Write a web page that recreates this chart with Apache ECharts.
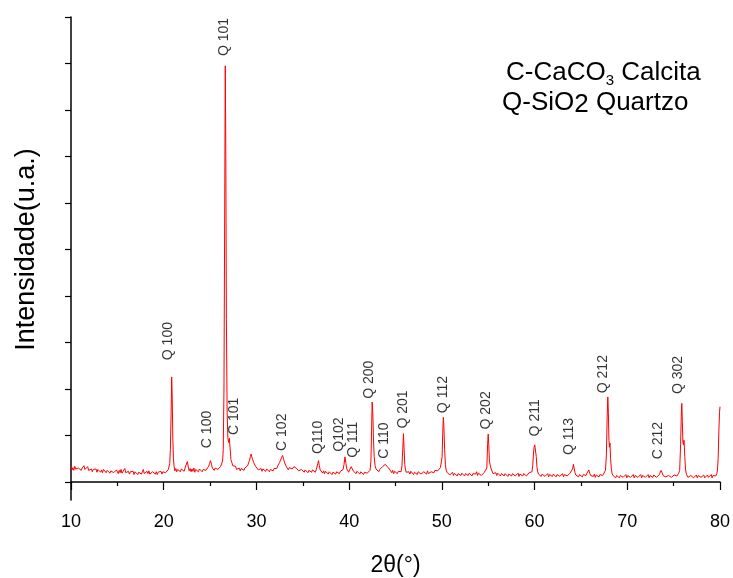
<!DOCTYPE html>
<html>
<head>
<meta charset="utf-8">
<script src="https://cdn.jsdelivr.net/npm/echarts@6/dist/echarts.min.js"></script>
<style>
html,body{margin:0;padding:0;background:#fff;}
#chart{width:733px;height:578px;}
</style>
</head>
<body>
<div id="chart"></div>
<script>
// X-ray diffraction pattern: [2theta (deg), intensity (a.u.)]
var xrdPoints = [
[10.0,33],[10.1,26],[10.2,31],[10.3,25],[10.4,34],[10.5,28],[10.6,32],[10.7,24],[10.8,30],[10.9,27],
[11.0,33],[11.1,25],[11.2,30],[11.3,28],[11.4,35],[11.5,27],[11.6,31],[11.7,26],[11.8,33],[11.9,25],
[12.0,29],[12.1,23],[12.2,28],[12.3,22],[12.4,27],[12.5,30],[12.6,23],[12.7,28],[12.8,21],[12.9,27],
[13.0,24],[13.1,29],[13.2,21],[13.3,26],[13.4,20],[13.5,27],[13.6,23],[13.7,28],[13.8,20],[13.9,25],
[14.0,22],[14.1,27],[14.2,19],[14.3,24],[14.4,21],[14.5,28],[14.6,20],[14.7,24],[14.8,19],[14.9,26],
[15.0,22],[15.1,18],[15.2,25],[15.3,20],[15.4,27],[15.5,19],[15.6,23],[15.7,17],[15.8,29],[15.9,20],
[16.0,24],[16.1,18],[16.2,23],[16.3,17],[16.4,22],[16.5,25],[16.6,18],[16.7,23],[16.8,16],[16.9,22],
[17.0,19],[17.1,24],[17.2,16],[17.3,21],[17.4,18],[17.5,25],[17.6,17],[17.7,22],[17.8,27],[17.9,18],
[18.0,21],[18.1,16],[18.2,23],[18.3,18],[18.4,24],[18.5,17],[18.6,20],[18.7,15],[18.8,22],[18.9,19],
[19.0,25],[19.1,17],[19.2,22],[19.3,16],[19.4,21],[19.5,24],[19.6,18],[19.7,23],[19.8,17],[19.9,22],
[20.0,19],[20.1,25],[20.2,20],[20.3,24],[20.4,21],[20.5,27],
[20.6,30],[20.65,40],[20.72,70],[20.8,150],[20.86,226],[20.92,180],[20.98,95],[21.05,50],[21.12,33],
[21.2,24],[21.3,29],[21.4,22],[21.5,27],[21.6,23],[21.7,30],[21.8,22],[21.9,28],[22.0,24],[22.1,29],
[22.2,23],[22.3,30],[22.4,27],[22.45,34],[22.55,44],[22.65,32],[22.75,24],[22.85,29],[22.95,22],[23.05,28],
[23.15,23],[23.25,30],[23.35,21],[23.45,27],[23.55,24],[23.65,29],[23.75,22],[23.85,28],[23.95,25],[24.05,30],
[24.15,22],[24.25,27],[24.35,24],[24.45,31],[24.55,25],[24.65,29],[24.75,27],[24.85,34],[24.95,40],[25.05,46],
[25.15,38],[25.25,30],[25.35,33],[25.45,25],[25.55,30],[25.65,26],[25.75,32],[25.85,27],[25.95,31],[26.05,29],
[26.15,34],[26.25,36],[26.35,45],[26.42,70],[26.5,200],[26.58,600],[26.64,895],[26.7,700],[26.76,350],[26.84,150],
[26.92,95],[27.0,85],[27.08,94],[27.15,75],[27.25,48],[27.35,42],[27.45,35],[27.55,39],[27.65,31],[27.75,34],
[27.85,27],[27.95,31],[28.05,25],[28.15,30],[28.25,24],[28.35,29],[28.45,26],[28.55,31],[28.65,25],[28.75,30],
[28.85,28],[28.95,33],[29.05,35],[29.15,41],[29.25,46],[29.35,55],[29.42,60],[29.5,54],[29.6,48],[29.7,42],
[29.8,38],[29.9,34],[30.0,30],[30.1,32],[30.2,26],[30.3,30],[30.4,24],[30.5,29],[30.6,23],[30.7,28],
[30.8,25],[30.9,31],[31.0,23],[31.1,28],[31.2,24],[31.3,30],[31.4,22],[31.5,27],[31.6,25],[31.7,31],
[31.8,24],[31.9,29],[32.0,27],[32.1,32],[32.2,29],[32.3,35],[32.4,37],[32.5,42],[32.6,47],[32.7,52],
[32.82,57],[32.95,48],[33.05,41],[33.15,37],[33.25,32],[33.35,30],[33.45,26],[33.55,31],[33.65,27],[33.75,32],
[33.85,28],[33.95,31],[34.05,33],[34.15,37],[34.25,34],[34.35,29],[34.45,31],[34.55,24],[34.65,28],[34.75,22],
[34.85,27],[34.95,23],[35.05,29],[35.15,21],[35.25,26],[35.35,22],[35.45,28],[35.55,20],[35.65,25],[35.75,23],
[35.85,29],[35.95,21],[36.05,26],[36.15,22],[36.25,27],[36.35,21],[36.45,26],[36.55,30],[36.62,40],[36.7,46],
[36.78,35],[36.88,26],[36.98,22],[37.05,25],[37.15,19],[37.25,24],[37.35,18],[37.45,23],[37.55,20],[37.65,25],
[37.75,17],[37.85,22],[37.95,19],[38.05,24],[38.15,16],[38.25,21],[38.35,18],[38.45,25],[38.55,17],[38.65,22],
[38.75,19],[38.85,24],[38.95,18],[39.05,23],[39.15,21],[39.25,26],[39.35,27],[39.45,38],[39.55,54],[39.65,40],
[39.75,28],[39.85,24],[39.95,21],[40.05,26],[40.15,28],[40.22,33],[40.3,37],[40.38,29],[40.47,23],[40.55,19],
[40.65,24],[40.75,18],[40.85,23],[40.95,20],[41.05,25],[41.15,17],[41.25,22],[41.35,19],[41.45,24],[41.55,16],
[41.65,21],[41.75,18],[41.85,24],[41.95,19],[42.05,23],[42.15,20],[42.25,25],[42.35,45],[42.42,110],[42.48,172],
[42.55,150],[42.62,95],[42.7,55],[42.8,35],[42.9,28],[43.0,24],[43.1,27],[43.2,22],[43.3,27],[43.4,25],
[43.5,30],[43.6,33],[43.7,37],[43.8,32],[43.9,38],[44.0,34],[44.1,37],[44.2,31],[44.3,33],[44.4,26],
[44.5,24],[44.6,20],[44.7,25],[44.8,18],[44.9,23],[45.0,21],[45.1,26],[45.2,18],[45.3,23],[45.4,20],
[45.5,24],[45.6,22],[45.7,35],[45.78,70],[45.86,104],[45.92,75],[46.0,38],[46.08,26],[46.16,21],[46.25,24],
[46.35,18],[46.45,22],[46.55,17],[46.65,23],[46.75,19],[46.85,24],[46.95,16],[47.05,21],[47.15,18],[47.25,23],
[47.35,16],[47.45,22],[47.55,19],[47.65,24],[47.75,17],[47.85,21],[47.95,15],[48.05,22],[48.15,18],[48.25,23],
[48.35,17],[48.45,24],[48.55,18],[48.65,21],[48.75,16],[48.85,22],[48.95,19],[49.05,24],[49.15,20],[49.25,25],
[49.35,22],[49.45,27],[49.55,24],[49.65,28],[49.75,26],[49.85,31],[49.95,35],[50.03,55],[50.1,110],[50.16,139],
[50.22,120],[50.3,70],[50.38,38],[50.46,26],[50.55,21],[50.65,17],[50.75,21],[50.85,15],[50.95,19],[51.05,16],
[51.15,21],[51.25,14],[51.35,19],[51.45,16],[51.55,21],[51.65,13],[51.75,18],[51.85,15],[51.95,20],[52.05,14],
[52.15,19],[52.25,16],[52.35,21],[52.45,13],[52.55,18],[52.65,15],[52.75,20],[52.85,14],[52.95,19],[53.05,16],
[53.15,21],[53.25,13],[53.35,18],[53.45,15],[53.55,20],[53.65,17],[53.75,22],[53.85,14],[53.95,19],[54.05,16],
[54.15,21],[54.25,14],[54.35,18],[54.45,15],[54.55,20],[54.65,17],[54.75,22],[54.85,30],[54.93,80],[55.0,103],
[55.06,80],[55.13,45],[55.22,36],[55.32,28],[55.42,24],[55.52,18],[55.62,21],[55.72,15],[55.82,20],[55.92,14],
[56.02,19],[56.12,16],[56.22,21],[56.32,13],[56.42,18],[56.52,15],[56.62,19],[56.72,13],[56.82,18],[56.92,15],
[57.02,20],[57.12,12],[57.22,17],[57.32,14],[57.42,19],[57.52,13],[57.62,18],[57.72,15],[57.82,20],[57.92,13],
[58.02,17],[58.12,14],[58.22,19],[58.32,12],[58.42,17],[58.52,15],[58.62,20],[58.72,13],[58.82,18],[58.92,14],
[59.02,19],[59.12,13],[59.22,17],[59.32,15],[59.42,20],[59.52,16],[59.62,19],[59.72,22],[59.8,35],[59.88,60],
[59.95,75],[60.02,80],[60.1,77],[60.18,55],[60.26,32],[60.34,22],[60.42,17],[60.52,13],[60.62,18],[60.72,12],
[60.82,17],[60.92,14],[61.02,19],[61.12,12],[61.22,16],[61.32,13],[61.42,18],[61.52,11],[61.62,16],[61.72,14],
[61.82,19],[61.92,12],[62.02,17],[62.12,13],[62.22,18],[62.32,11],[62.42,16],[62.52,14],[62.62,19],[62.72,12],
[62.82,16],[62.92,13],[63.02,18],[63.12,11],[63.22,16],[63.32,14],[63.42,19],[63.52,13],[63.62,17],[63.72,15],
[63.82,19],[63.92,18],[64.02,22],[64.1,28],[64.19,38],[64.28,28],[64.36,20],[64.45,15],[64.55,12],[64.65,17],
[64.75,11],[64.85,16],[64.95,13],[65.05,18],[65.15,11],[65.25,16],[65.35,13],[65.45,17],[65.55,14],[65.65,19],
[65.75,22],[65.85,26],[65.95,19],[66.05,14],[66.15,10],[66.25,15],[66.35,12],[66.45,17],[66.55,10],[66.65,15],
[66.75,12],[66.85,16],[66.95,11],[67.05,16],[67.15,13],[67.25,17],[67.35,14],[67.45,18],[67.55,17],[67.65,25],
[67.75,60],[67.83,140],[67.9,183],[67.96,150],[68.02,90],[68.08,75],[68.13,84],[68.2,50],[68.28,28],[68.36,19],
[68.45,14],[68.55,11],[68.65,15],[68.75,9],[68.85,14],[68.95,11],[69.05,16],[69.15,9],[69.25,14],[69.35,11],
[69.45,15],[69.55,10],[69.65,14],[69.75,12],[69.85,16],[69.95,9],[70.05,14],[70.15,11],[70.25,16],[70.35,10],
[70.45,14],[70.55,12],[70.65,16],[70.75,9],[70.85,14],[70.95,11],[71.05,15],[71.15,10],[71.25,14],[71.35,12],
[71.45,16],[71.55,9],[71.65,14],[71.75,11],[71.85,15],[71.95,10],[72.05,14],[72.15,12],[72.25,16],[72.35,9],
[72.45,14],[72.55,11],[72.65,15],[72.75,10],[72.85,15],[72.95,12],[73.05,16],[73.15,10],[73.25,14],[73.35,12],
[73.45,16],[73.55,18],[73.65,25],[73.75,20],[73.85,14],[73.95,10],[74.05,15],[74.15,11],[74.25,14],[74.35,9],
[74.45,14],[74.55,12],[74.65,16],[74.75,10],[74.85,14],[74.95,11],[75.05,15],[75.15,12],[75.25,16],[75.35,13],
[75.45,17],[75.55,19],[75.65,25],[75.75,80],[75.82,140],[75.88,169],[75.94,130],[76.0,85],[76.06,80],[76.12,90],
[76.2,55],[76.28,28],[76.36,17],[76.45,13],[76.55,10],[76.65,14],[76.75,9],[76.85,14],[76.95,11],[77.05,15],
[77.15,9],[77.25,13],[77.35,11],[77.45,15],[77.55,9],[77.65,14],[77.75,11],[77.85,15],[77.95,10],[78.05,14],
[78.15,12],[78.25,15],[78.35,9],[78.45,13],[78.55,11],[78.65,15],[78.75,10],[78.85,14],[78.95,12],[79.05,16],
[79.15,9],[79.25,14],[79.35,11],[79.45,15],[79.55,13],[79.65,18],[79.72,24],[79.8,50],[79.88,110],[79.95,150],
[80.0,162]
];

// Peak labels: [text, 2theta of label centre, intensity of label centre]
var peakLabels = [
["Q 100",20.46,303],["Q 101",26.50,957],["C 100",24.70,113],["C 101",27.58,141],
["C 102",32.76,107],["Q110",36.61,96],["Q102",38.94,102],["Q 111",40.47,91],
["Q 200",42.20,220],["C 110",43.77,89],["Q 201",45.78,156],["Q 112",50.10,188],
["Q 202",54.82,154],["Q 211",60.05,138],["Q 113",63.75,98],["Q 212",67.36,232],
["C 212",73.36,89],["Q 302",75.51,230]
];

var xMin = 10, xMax = 80, xStep = 10;
var yTickValues = [0,100,200,300,400,500,600,700,800,900,1000];
var yMin = -38.7, yMax = 1000;

var FONT = "'Liberation Sans', Arial, sans-serif";
var chart = echarts.init(document.getElementById('chart'), null, {renderer:'canvas'});
chart.setOption({
  animation:false,
  backgroundColor:'#ffffff',
  grid:{left:71, right:13, top:17, bottom:78, containLabel:false, outerBoundsMode:'none'},
  xAxis:{
    type:'value', min:xMin, max:xMax, interval:xStep,
    name:'2θ(°)', nameLocation:'middle', nameGap:54,
    nameTextStyle:{fontFamily:FONT, fontSize:23, color:'#000'},
    axisLine:{show:true, lineStyle:{color:'#000', width:1.5}},
    axisTick:{show:true, inside:false, length:8, lineStyle:{color:'#000', width:1.2}},
    minorTick:{show:true, splitNumber:2, length:4, lineStyle:{color:'#000', width:1.2}},
    axisLabel:{fontFamily:FONT, fontSize:18, color:'#000', margin:13},
    splitLine:{show:false}
  },
  yAxis:{
    type:'value', min:yMin, max:yMax,
    name:'Intensidade(u.a.)', nameLocation:'middle', nameGap:31,
    nameTextStyle:{fontFamily:FONT, fontSize:27, color:'#000', padding:[0,0,0,18]},
    axisLine:{show:true, lineStyle:{color:'#000', width:1.5}},
    axisTick:{show:true, inside:false, length:6, customValues:yTickValues, lineStyle:{color:'#000', width:1.2}},
    axisLabel:{show:false},
    splitLine:{show:false}
  },
  graphic:[
    {type:'text', left:506, top:60, style:{
      text:'{m|C-CaCO}{s|3}{m| Calcita}',
      rich:{m:{fontFamily:FONT, fontSize:26, lineHeight:30, color:'#000'},
            s:{fontFamily:FONT, fontSize:15, lineHeight:10, verticalAlign:'bottom', color:'#000'}}
    }},
    {type:'text', left:502, top:90, style:{
      text:'{m|Q-SiO}{t|2}{m| Quartzo}',
      rich:{m:{fontFamily:FONT, fontSize:26, lineHeight:30, color:'#000'},
            t:{fontFamily:FONT, fontSize:26, lineHeight:8, verticalAlign:'bottom', color:'#000'}}
    }}
  ],
  series:[
    {type:'line', data:xrdPoints, showSymbol:false, symbol:'none', sampling:null,
     lineStyle:{color:'#ff0000', width:1}, z:2},
    {type:'scatter', symbolSize:0, silent:true, z:3,
     data:peakLabels.map(function(p){return {name:p[0], value:[p[1],p[2]]};}),
     label:{show:true, position:'inside', rotate:90, formatter:'{b}',
            fontFamily:FONT, fontSize:14, color:'#000'}}
  ]
});
</script>
</body>
</html>
